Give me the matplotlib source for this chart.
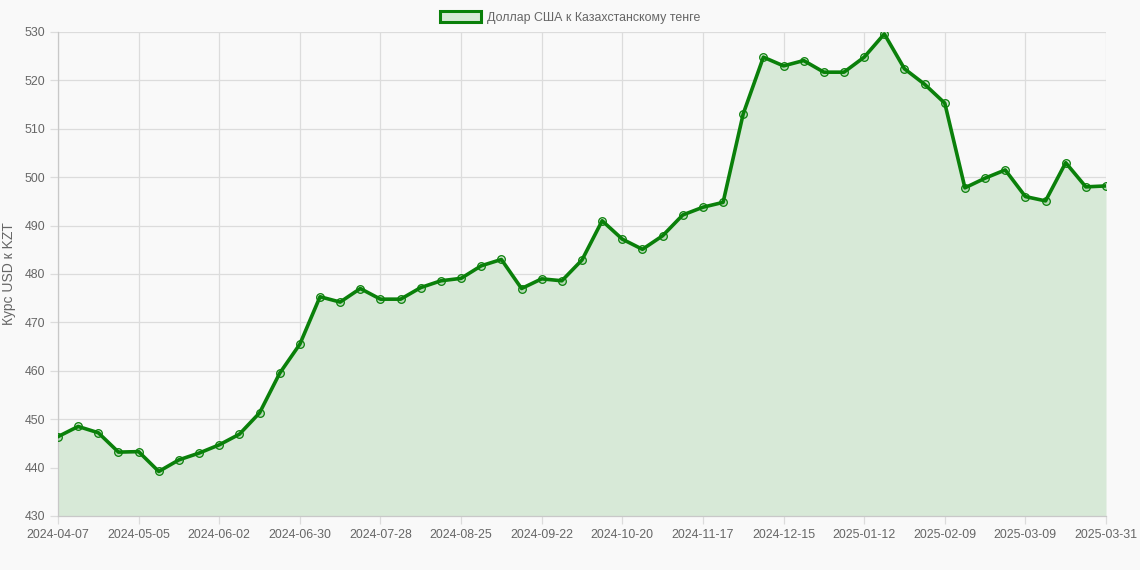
import matplotlib
matplotlib.use("Agg")
import matplotlib.pyplot as plt
from matplotlib.patches import Rectangle
import pandas as pd

# weekly USD/KZT rates, last point is a single day
dates = list(pd.date_range("2024-04-07", periods=52, freq="7D").strftime("%Y-%m-%d")) + ["2025-03-31"]
rates = [446.4, 448.5, 447.2, 443.2, 443.3, 439.2, 441.6, 443.0, 444.7, 446.9,
         451.3, 459.5, 465.5, 475.3, 474.2, 477.0, 474.8, 474.8, 477.2, 478.6,
         479.1, 481.7, 483.0, 477.0, 479.0, 478.6, 482.9, 491.0, 487.2, 485.1,
         487.9, 492.2, 493.8, 494.8, 513.1, 524.8, 523.0, 524.1, 521.7, 521.7,
         524.8, 529.6, 522.4, 519.2, 515.3, 497.8, 499.8, 501.5, 496.0, 495.1,
         503.0, 498.0, 498.2]
yticks = list(range(430, 531, 10))
label_idx = list(range(0, 49, 4)) + [52]

series_name = "Доллар США к Казахстанскому тенге"
line_c = "#0a800a"
fill_c = "#d7e9d7"
txt_c = "#666666"
grid_c = "#dcdcdc"
bg = "#f9f9f9"

plt.rcParams['font.family'] = ['Liberation Sans', 'DejaVu Sans']

fig = plt.figure(figsize=(11.4, 5.7), dpi=100, facecolor=bg)
ax = fig.add_axes([58/1140, 54/570, 1048/1140, 484/570])
ax.set_facecolor(bg)

x = list(range(len(rates)))
ax.fill_between(x, rates, 430, color=fill_c, linewidth=0, zorder=2)
ax.plot(x, rates, color=line_c, linewidth=2.6, zorder=3,
        marker="o", markersize=5.5, markerfacecolor=(0.0, 0.5, 0.0, 0.15),
        markeredgecolor=line_c, markeredgewidth=0.9)

ax.set_xlim(0, len(rates) - 1)
ax.set_ylim(430, 530)
ax.set_yticks(yticks)
ax.set_xticks(label_idx)
ax.set_xticklabels([dates[i] for i in label_idx])

ax.grid(True, color=grid_c, linewidth=0.9, zorder=1)
ax.set_axisbelow(True)
for s in ["top", "right"]:
    ax.spines[s].set_visible(False)
for s in ["left", "bottom"]:
    ax.spines[s].set_color("#c8c8c8")
    ax.spines[s].set_linewidth(0.9)
ax.tick_params(axis="both", colors=grid_c, labelcolor=txt_c, labelsize=8.9,
               length=6, width=0.9, pad=3)

ax.set_ylabel("Курс USD к KZT", color=txt_c, fontsize=10, labelpad=6)

h = Rectangle((0, 0), 1, 1, facecolor=fill_c, edgecolor=line_c, linewidth=2.2)
fig.legend([h], [series_name], loc="upper center", bbox_to_anchor=(0.5, 1.0),
           frameon=False, fontsize=8.9, labelcolor=txt_c,
           handlelength=3.3, handleheight=1.0, handletextpad=0.5,
           borderaxespad=0.5)

fig.savefig("out.png", dpi=100, facecolor=bg)
